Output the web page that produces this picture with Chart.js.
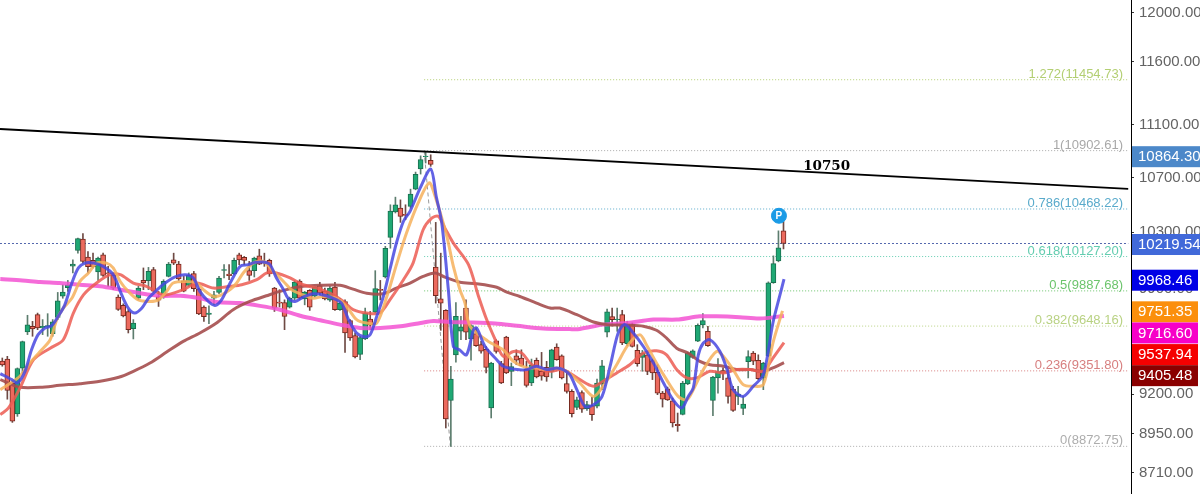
<!DOCTYPE html>
<html>
<head>
<meta charset="utf-8">
<title>Candlestick chart</title>
<script src="https://cdn.jsdelivr.net/npm/chart.js@4"></script>
<style>
    html, body { margin: 0; padding: 0; background: #fff; overflow: hidden; }
    canvas { display: block; }
</style>
</head>
<body>
<canvas id="priceChart" width="1200" height="494"></canvas>
<script>
// Candles (oldest first)
var opens = [
    9416, 9429, 9273, 9075, 9369, 9609, 9647, 9725, 9636, 9642,
    9598, 9707, 9851, 9910, 10060, 10170, 10251, 10123, 10100, 10019,
    10139, 10012, 9995, 9845, 9788, 9747, 9631, 9837, 9960, 9958,
    10035, 9849, 9849, 9988, 10104, 10074, 9958, 9926, 10007, 9900,
    9777, 9727, 9837, 9877, 10030, 10005, 10007, 10139, 10121, 10028,
    10028, 10132, 10090, 10100, 9907, 9811, 9808, 9777, 9837, 9956,
    9833, 9891, 9851, 9924, 9886, 9824, 9914, 9759, 9815, 9685,
    9584, 9460, 9562, 9696, 9743, 9898, 9984, 10263, 10446, 10475,
    10429, 10487, 10614, 10764, 10856, 10829, 10053, 9833, 9754, 9161,
    9457, 9614, 9770, 9564, 9598, 9524, 9494, 9113, 9550, 9399,
    9575, 9349, 9451, 9436, 9364, 9273, 9421, 9349, 9375, 9349,
    9508, 9451, 9269, 9219, 9117, 9212, 9108, 9129, 9125, 9269,
    9608, 9712, 9692, 9725, 9530, 9658, 9486, 9440, 9457, 9419,
    9343, 9208, 9236, 9159, 9010, 9073, 9267, 9440, 9548, 9656,
    9613, 9161, 9306, 9353, 9306, 9234, 9187, 9111, 9412, 9468,
    9421, 9306, 9451, 9944, 10097, 10310
];
var closes = [
    9390, 9226, 9029, 9367, 9544, 9656, 9629, 9636, 9647, 9651,
    9676, 9819, 9879, 9930, 10074, 10254, 10093, 10056, 10056, 10116,
    9995, 10007, 9907, 9761, 9716, 9624, 9669, 9907, 9942, 10023,
    9886, 9824, 9953, 10074, 10081, 9970, 9886, 9995, 9903, 9730,
    9712, 9736, 9860, 9977, 10035, 9993, 10100, 10104, 10100, 9995,
    10116, 10074, 10081, 10005, 9770, 9804, 9714, 9837, 9949, 9837,
    9879, 9777, 9912, 9872, 9833, 9907, 9759, 9804, 9602, 9569,
    9443, 9571, 9736, 9654, 9903, 9891, 10186, 10453, 10499, 10415,
    10422, 10577, 10724, 10834, 10861, 10799, 9854, 9804, 9044, 9299,
    9714, 9643, 9607, 9651, 9517, 9481, 9375, 9403, 9479, 9273,
    9338, 9379, 9421, 9386, 9258, 9390, 9312, 9317, 9312, 9490,
    9425, 9306, 9219, 9077, 9165, 9106, 9134, 9071, 9273, 9384,
    9745, 9692, 9696, 9535, 9663, 9512, 9399, 9468, 9349, 9338,
    9208, 9169, 9165, 9018, 9001, 9273, 9468, 9484, 9654, 9685,
    9517, 9312, 9347, 9336, 9187, 9098, 9202, 9138, 9445, 9416,
    9301, 9403, 9944, 10077, 10188, 10219.54
];
var highs = [
    9436, 9447, 9284, 9371, 9548, 9721, 9680, 9736, 9692, 9732,
    9692, 9877, 9930, 9960, 10104, 10259, 10290, 10163, 10151, 10123,
    10151, 10058, 10012, 9860, 9799, 9759, 9692, 9919, 10047, 10051,
    10051, 9884, 9965, 10086, 10151, 10093, 9988, 10012, 10023, 9907,
    9785, 9785, 9884, 9988, 10070, 10070, 10116, 10151, 10128, 10093,
    10123, 10179, 10151, 10109, 9912, 9896, 9826, 9845, 9958, 9965,
    9884, 9896, 9919, 9947, 9907, 9919, 9947, 9837, 9826, 9692,
    9602, 9580, 9770, 9747, 10028, 9960, 10199, 10499, 10555, 10535,
    10499, 10614, 10741, 10863, 10896, 10871, 10371, 10151, 9759, 9382,
    9808, 9714, 9826, 9658, 9636, 9546, 9512, 9408, 9557, 9414,
    9580, 9403, 9490, 9490, 9414, 9429, 9436, 9473, 9414, 9494,
    9530, 9457, 9338, 9230, 9182, 9223, 9155, 9182, 9299, 9421,
    9763, 9770, 9770, 9755, 9681, 9669, 9524, 9486, 9468, 9429,
    9392, 9219, 9247, 9176, 9081, 9284, 9473, 9490, 9663, 9732,
    9647, 9317, 9432, 9371, 9360, 9252, 9252, 9187, 9484, 9479,
    9457, 9408, 9950, 10132, 10310, 10379
];
var lows = [
    9382, 9169, 9022, 9060, 9338, 9591, 9580, 9624, 9591, 9580,
    9580, 9692, 9837, 9884, 10012, 10151, 10081, 10012, 10047, 9960,
    9988, 9919, 9896, 9754, 9710, 9602, 9562, 9826, 9896, 9896,
    9877, 9781, 9837, 9984, 10070, 9960, 9881, 9919, 9884, 9725,
    9680, 9665, 9792, 9868, 9977, 9965, 10000, 10070, 10070, 9960,
    9984, 10070, 10058, 9988, 9747, 9777, 9624, 9770, 9826, 9830,
    9792, 9754, 9845, 9860, 9826, 9815, 9754, 9754, 9473, 9553,
    9436, 9425, 9557, 9624, 9736, 9826, 9977, 10186, 10439, 10371,
    10390, 10475, 10609, 10726, 10809, 10784, 9804, 9620, 8987, 8872,
    9408, 9557, 9557, 9421, 9512, 9468, 9338, 9050, 9468, 9269,
    9334, 9256, 9392, 9382, 9247, 9256, 9306, 9291, 9284, 9306,
    9421, 9299, 9208, 9056, 9102, 9085, 9098, 9035, 9113, 9230,
    9575, 9647, 9613, 9524, 9517, 9508, 9382, 9349, 9327, 9295,
    9198, 9119, 9161, 8993, 8966, 9069, 9262, 9434, 9544, 9636,
    9512, 9065, 9208, 9295, 9144, 9092, 9134, 9071, 9306, 9392,
    9295, 9230, 9445, 9940, 10090, 10181
];

// Moving averages: candle position and price at the points that could be read
var blueX = [-0.4, 1.9, 3, 4.5, 5.8, 7.1, 8.5, 9.8, 11.1, 12.4, 13.8, 15.1, 16.4, 18.1, 20, 22, 23.7, 25, 26.3, 27.7, 29, 30.6, 32.3, 34.3, 36.3, 37.9, 39.2, 40.9, 42.2, 43.5, 45.2, 47.2, 48.8, 50.1, 51.8, 53.1, 54.4, 55.8, 56.7, 58.1, 59.7, 61.7, 63.7, 65.7, 67.3, 68.7, 70.3, 72, 73, 74.3, 75.6, 76.9, 78.2, 79.6, 80.9, 82.9, 85, 86.1, 87.2, 88.5, 89.5, 90.7, 92.1, 93.5, 94.1, 95.8, 98.1, 99.4, 102.1, 104.1, 106, 108, 110, 111.3, 112.6, 114, 115.6, 117.3, 119, 120.6, 122.2, 123.5, 125.2, 127.2, 129.2, 131.2, 133.1, 134.8, 136.1, 137.1, 138.1, 139.1, 140.4, 142.4, 143.8, 145, 147, 149, 151, 152.9, 154.3, 155.1];
var blueY = [9334, 9295, 9273, 9349, 9490, 9591, 9636, 9651, 9714, 9792, 9942, 10047, 10081, 10081, 10058, 10000, 9860, 9770, 9736, 9770, 9837, 9891, 9942, 9984, 10000, 9977, 9884, 9815, 9788, 9826, 9942, 10058, 10070, 10086, 10088, 10070, 9977, 9896, 9837, 9815, 9845, 9868, 9860, 9837, 9804, 9692, 9602, 9575, 9591, 9714, 9849, 10035, 10223, 10379, 10451, 10621, 10764, 10560, 10367, 9896, 9512, 9490, 9457, 9625, 9636, 9512, 9425, 9382, 9360, 9360, 9382, 9360, 9371, 9360, 9327, 9230, 9123, 9134, 9187, 9382, 9602, 9658, 9602, 9512, 9403, 9273, 9165, 9113, 9187, 9241, 9457, 9535, 9557, 9479, 9360, 9230, 9187, 9252, 9327, 9669, 9860, 9968.46];

var orangeX = [-0.4, 1.2, 3.5, 5.5, 7.5, 9.5, 10.8, 12.1, 13.8, 15.4, 17.1, 18.7, 20.7, 22, 23.4, 25, 27, 29.3, 31, 32.6, 33.9, 36.3, 38.6, 39.9, 41.9, 43.5, 45.2, 46.5, 47.8, 49.8, 51.8, 53.8, 55.8, 57.4, 59.7, 61.7, 63.7, 66.3, 68.3, 70.3, 72.3, 74.3, 76.3, 78.3, 80.2, 82.5, 84.7, 85.8, 88.2, 89.5, 90.8, 91.8, 92.8, 96.4, 99.4, 101.4, 104.1, 106, 108, 110, 112, 114.6, 117.3, 119.2, 121.9, 124.2, 126.5, 127.8, 129.8, 131.8, 134.1, 135.8, 137.1, 139.1, 141.7, 143.1, 145, 147, 149, 151, 152.9, 154.8];
var orangeY = [9230, 9263, 9317, 9403, 9479, 9557, 9692, 9770, 9837, 9953, 10012, 10081, 10081, 10047, 9953, 9884, 9826, 9815, 9826, 9884, 9942, 9953, 9942, 9896, 9849, 9860, 9896, 9942, 10012, 10081, 10093, 10023, 9953, 9896, 9860, 9837, 9849, 9837, 9781, 9692, 9669, 9669, 9849, 10081, 10294, 10511, 10660, 10571, 10270, 10058, 9896, 9804, 9648, 9546, 9490, 9414, 9371, 9371, 9360, 9371, 9349, 9273, 9187, 9252, 9392, 9524, 9590, 9524, 9403, 9295, 9187, 9165, 9230, 9360, 9479, 9446, 9360, 9262, 9252, 9262, 9535, 9751.35];

var redX = [-0.4, 1.2, 3.5, 6.2, 9.5, 12.1, 14.1, 16.1, 18.7, 21.4, 23.4, 26, 28.6, 32, 35.9, 38.6, 41.9, 45.2, 47.5, 50.5, 52.5, 54.4, 57.1, 59.7, 62.4, 65, 67.7, 69.6, 72.3, 74.9, 76.9, 79.6, 81.5, 83.5, 85.2, 86.5, 87.8, 89.5, 92.5, 94.5, 96.1, 97.8, 99.4, 101.4, 103.1, 104.7, 106.7, 108.7, 110.7, 112, 114.6, 117.3, 119.2, 121.9, 124.5, 127.2, 129.8, 131.8, 133.8, 135.8, 137.8, 140.4, 143.1, 145.7, 148.4, 151, 152.9, 155.1];
var redY = [9071, 9112, 9241, 9425, 9501, 9557, 9736, 9860, 9942, 10000, 10000, 9942, 9919, 9860, 9896, 9942, 9907, 9919, 9930, 9965, 10012, 10012, 9977, 9930, 9907, 9872, 9815, 9759, 9736, 9737, 9826, 9965, 10081, 10318, 10402, 10415, 10331, 10222, 10070, 9849, 9692, 9557, 9447, 9479, 9468, 9403, 9360, 9349, 9360, 9349, 9295, 9252, 9284, 9338, 9392, 9468, 9484, 9457, 9360, 9306, 9306, 9349, 9338, 9360, 9360, 9349, 9436, 9537.94];

var darkRedX = [-0.4, 1.5, 3.5, 7.5, 11.4, 15.4, 19.4, 23.1, 26, 29.3, 32.6, 35.9, 39.2, 42.5, 45.8, 49.1, 52.4, 55.8, 59.7, 63, 67, 69.6, 72.3, 75.6, 78.2, 80.9, 83.5, 85.9, 87.8, 90.8, 94.1, 98.1, 100.1, 102.7, 106, 108.7, 110.6, 114, 117.3, 120, 124, 127.2, 129.8, 131.8, 133.8, 136.1, 138.4, 140.4, 143.1, 145.7, 148.4, 151, 152.9, 155.1];
var darkRedY = [9295, 9269, 9245, 9245, 9258, 9269, 9284, 9310, 9349, 9403, 9475, 9546, 9602, 9669, 9759, 9815, 9854, 9891, 9919, 9926, 9926, 9900, 9872, 9868, 9907, 9942, 9988, 10012, 9983, 9948, 9937, 9913, 9879, 9849, 9804, 9770, 9770, 9725, 9676, 9658, 9654, 9647, 9620, 9568, 9501, 9468, 9414, 9392, 9382, 9360, 9360, 9349, 9371, 9405.48];

var magentaX = [-0.4, 4, 7.5, 11.4, 15.4, 19.4, 23.4, 27.3, 31.3, 35.3, 39.2, 42.5, 47.2, 51.1, 55.1, 59.1, 63.1, 67, 71, 75, 79, 83, 85.5, 88.8, 93.5, 97.8, 102.1, 107.3, 112.6, 114.6, 119.2, 123.9, 129.2, 133.8, 138.4, 141.7, 146.3, 150.3, 155.1];
var magentaY = [9970, 9960, 9949, 9942, 9930, 9919, 9896, 9872, 9854, 9854, 9837, 9811, 9804, 9785, 9759, 9718, 9687, 9658, 9636, 9636, 9647, 9669, 9683, 9676, 9672, 9665, 9650, 9632, 9628, 9629, 9658, 9669, 9692, 9692, 9714, 9714, 9708, 9699, 9716.6];

// Fibonacci levels
var fibNames = ['1.272', '1', '0.786', '0.618', '0.5', '0.382', '0.236', '0'];
var fibPrices = [11454.73, 10902.61, 10468.22, 10127.20, 9887.68, 9648.16, 9351.80, 8872.75];
var fibColors = ['#b3cf72', '#a8a8a8', '#59aacb', '#63cdb0', '#6cc46c', '#b9d283', '#d77f7f', '#adadad'];
var fibStartX = 83.7;
var fibEndX = 223.3;
var fibSwingX = [83.7, 88.9];
var fibSwingY = [10902.61, 8872.75];

// Black trend line and its note, the pivot marker
var trendX = [-0.46, 223.4];
var trendY = [11069, 10616];
var trendNote = '10750';
var trendNoteX = 158.9;
var trendNoteY = 10781;
var pivotX = 154.1;
var pivotY = 10419;

// Axis ticks and the coloured price tags on the axis
var tickValues = [12000, 11600, 11100, 10700, 10300, 9900, 9200, 8950, 8710];
var lastPrice = 10219.54;
var tagPrices = [10864.30, 10219.54, 9968.46, 9751.35, 9716.60, 9537.94, 9405.48];
var tagColors = ['#4c88c9', '#4169d9', '#0000e6', '#fb8f0c', '#f700c8', '#f50000', '#8a0000'];
var tagPushDown = [1, 1, 1, 1, 17, 12, 13];

var GREEN_FILL = '#1fa874', GREEN_EDGE = '#1b6f50', GREEN_WICK = '#5d7d6e';
var RED_FILL = '#ec6a5e', RED_EDGE = '#74291f', RED_WICK = '#6e4a44';

function isUp(i) {
    return closes[i] >= opens[i];
}

function toPoints(xs, ys) {
    return xs.map(function(x, i) { return { x: x, y: ys[i] }; });
}

function movingAverage(xs, ys, color, width, order) {
    return {
        type: 'line',
        data: toPoints(xs, ys),
        borderColor: color,
        borderWidth: width,
        tension: 0.3,
        pointRadius: 0,
        order: order
    };
}

function levelLine(xs, ys, color, dash, width, order) {
    return {
        type: 'line',
        data: toPoints(xs, ys),
        borderColor: color,
        borderWidth: width,
        borderDash: dash,
        pointRadius: 0,
        order: order
    };
}

function buildDatasets() {
    var sets = [];

    // lines first, lower order is drawn on top
    sets.push(levelLine(trendX, trendY, '#000000', [], 2, 1));
    sets.push(movingAverage(blueX, blueY, 'rgba(72, 72, 225, 0.85)', 3, 2));
    sets.push(movingAverage(orangeX, orangeY, 'rgba(246, 176, 92, 0.85)', 3, 3));
    sets.push(movingAverage(redX, redY, 'rgba(236, 92, 82, 0.85)', 3, 4));
    sets.push(movingAverage(darkRedX, darkRedY, 'rgba(165, 78, 78, 0.9)', 3, 5));
    sets.push(movingAverage(magentaX, magentaY, 'rgba(243, 82, 210, 0.85)', 4, 6));

    sets.push({
        type: 'bar',
        data: opens.map(function(o, i) { return { x: i, y: [o, closes[i]] }; }),
        backgroundColor: opens.map(function(o, i) { return isUp(i) ? GREEN_FILL : RED_FILL; }),
        borderColor: opens.map(function(o, i) { return isUp(i) ? GREEN_EDGE : RED_EDGE; }),
        borderWidth: 1,
        borderSkipped: false,
        barThickness: 5,
        order: 10
    });
    sets.push({
        type: 'bar',
        data: lows.map(function(l, i) { return { x: i, y: [l, highs[i]] }; }),
        backgroundColor: lows.map(function(l, i) { return isUp(i) ? GREEN_WICK : RED_WICK; }),
        borderWidth: 0,
        barThickness: 1,
        order: 11
    });

    // fib levels and the last price line sit behind the candles
    fibPrices.forEach(function(price, i) {
        sets.push(levelLine([fibStartX, fibEndX], [price, price], fibColors[i], [1, 2], 1, 20));
    });
    sets.push(levelLine(fibSwingX, fibSwingY, '#9a9a9a', [4, 3], 1, 21));
    sets.push(levelLine(trendX, [lastPrice, lastPrice], '#5468ad', [2, 2], 1, 22));

    sets.push({
        type: 'line',
        data: [{ x: pivotX, y: pivotY }],
        showLine: false,
        pointRadius: 7.5,
        pointBackgroundColor: '#1b9be6',
        pointBorderColor: '#1b9be6',
        order: 0
    });
    return sets;
}

// Fib captions, the trend note, the pivot letter and the axis tags
var chartTexts = {
    id: 'chartTexts',
    afterDraw: function(chart) {
        var ctx = chart.ctx;
        var x = chart.scales.x;
        var y = chart.scales.y;

        ctx.save();
        ctx.textBaseline = 'middle';

        ctx.textAlign = 'right';
        ctx.font = '13px "Liberation Sans"';
        fibPrices.forEach(function(price, i) {
            ctx.fillStyle = fibColors[i];
            ctx.fillText(fibNames[i] + '(' + price.toFixed(2) + ')', 1123, y.getPixelForValue(price) - 5.5);
        });

        ctx.textAlign = 'left';
        ctx.fillStyle = '#000000';
        ctx.font = 'bold 13.5px "DejaVu Serif"';
        ctx.fillText(trendNote, x.getPixelForValue(trendNoteX), y.getPixelForValue(trendNoteY));

        ctx.textAlign = 'center';
        ctx.fillStyle = '#ffffff';
        ctx.font = 'bold 10px "Liberation Sans"';
        ctx.fillText('P', x.getPixelForValue(pivotX), y.getPixelForValue(pivotY) + 0.5);

        ctx.textAlign = 'left';
        ctx.font = '15px "Liberation Sans"';
        tagPrices.forEach(function(price, i) {
            var mid = y.getPixelForValue(price) + tagPushDown[i];
            ctx.fillStyle = tagColors[i];
            ctx.fillRect(1132, mid - 10.5, i < 2 ? 68 : 66, 21);
            ctx.fillStyle = '#ffffff';
            ctx.fillText(price.toFixed(2), 1138, mid + 0.5);
        });
        ctx.restore();
    }
};

function initChart() {
    var canvas = document.getElementById('priceChart');
    if (!canvas) return;

    new Chart(canvas, {
        type: 'bar',
        data: { datasets: buildDatasets() },
        plugins: [chartTexts],
        options: {
            responsive: false,
            animation: false,
            layout: { padding: 0, autoPadding: false },
            datasets: { bar: { grouped: false } },
            plugins: {
                legend: { display: false },
                tooltip: { enabled: false }
            },
            scales: {
                x: {
                    type: 'linear',
                    display: false,
                    offset: false,
                    min: -0.456,
                    max: 223.95
                },
                y: {
                    type: 'logarithmic',
                    position: 'right',
                    min: 8583,
                    max: 12109,
                    afterBuildTicks: function(scale) {
                        scale.ticks = tickValues.map(function(v) { return { value: v }; });
                    },
                    afterFit: function(scale) {
                        scale.width = 69;
                        scale.paddingTop = 0;
                        scale.paddingBottom = 0;
                    },
                    border: { color: '#000000', width: 1 },
                    grid: { drawOnChartArea: false, color: '#333333', tickLength: 3 },
                    ticks: {
                        autoSkip: false,
                        maxRotation: 0,
                        padding: 5,
                        color: '#636363',
                        font: { family: '"Liberation Sans"', size: 15 },
                        callback: function(value) { return Number(value).toFixed(2); }
                    }
                }
            }
        }
    });
}

initChart();
</script>
</body>
</html>
